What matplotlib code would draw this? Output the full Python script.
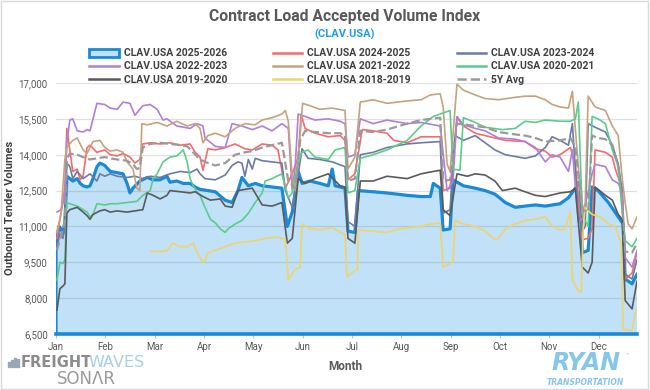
import matplotlib
matplotlib.use('Agg')
import matplotlib.pyplot as plt
from matplotlib.patches import Patch, Rectangle
from matplotlib.lines import Line2D
from matplotlib.ticker import FuncFormatter

plt.rcParams['font.family'] = ['Roboto', 'DejaVu Sans']

months = ['Jan', 'Feb', 'Mar', 'Apr', 'May', 'Jun', 'Jul', 'Aug', 'Sep', 'Oct', 'Nov', 'Dec']
yticks = [6500, 8000, 9500, 11000, 12500, 14000, 15500, 17000]

# (month position, volume)
s2025 = [(0.0, 10200), (0.06, 11000), (0.10, 10900), (0.14, 10700), (0.18, 11200), (0.22, 13100),
         (0.28, 13000), (0.34, 12900), (0.43, 13000), (0.49, 12800), (0.55, 12700), (0.63, 12650),
         (0.69, 12700), (0.75, 13000), (0.83, 13500), (0.89, 13650), (0.99, 13550), (1.10, 13300),
         (1.24, 13250), (1.36, 13200), (1.44, 12800), (1.50, 12400), (1.56, 12600), (1.70, 12900),
         (1.85, 13050), (1.97, 12950), (2.11, 12950), (2.25, 13100), (2.31, 12850), (2.45, 12900),
         (2.58, 12800), (2.72, 12800), (2.82, 12650), (2.92, 12550), (3.08, 12500), (3.23, 12450),
         (3.43, 12100), (3.57, 12000), (3.69, 12500), (3.77, 13050), (3.90, 12700), (4.04, 12800),
         (4.18, 12700), (4.38, 12650), (4.58, 12600), (4.69, 11000), (4.79, 11600), (4.91, 13300),
         (4.99, 12800), (5.15, 12900), (5.35, 12800), (5.52, 12700), (5.60, 13400), (5.66, 12700),
         (5.86, 12600), (5.92, 10800), (6.06, 10750), (6.13, 12500), (6.43, 12450), (6.71, 12400),
         (7.12, 12300), (7.40, 12250), (7.59, 12250), (7.65, 12800), (7.79, 12600), (7.85, 10850),
         (7.99, 10900), (8.05, 12950), (8.26, 12700), (8.50, 12600), (8.70, 12500), (8.90, 12350),
         (9.11, 12000), (9.31, 11800), (9.51, 11850), (9.72, 11900), (9.92, 11850), (10.22, 11950),
         (10.39, 12200), (10.53, 12600), (10.63, 12900), (10.67, 9900), (10.79, 10000), (10.87, 12650),
         (10.99, 12500), (11.20, 12000), (11.40, 11400), (11.50, 11100), (11.54, 8800), (11.68, 8600),
         (11.78, 9000)]

s2024 = [(0.02, 10500), (0.08, 11300), (0.14, 12000), (0.18, 12700), (0.22, 15100), (0.28, 14200),
         (0.34, 13300), (0.43, 13400), (0.49, 12950), (0.55, 13100), (0.63, 14300), (0.69, 14400),
         (0.83, 14100), (0.99, 14200), (1.10, 14000), (1.24, 13950), (1.36, 14050), (1.50, 13900),
         (1.60, 13650), (1.70, 13800), (1.76, 14450), (1.91, 14500), (2.11, 14450), (2.31, 14500),
         (2.52, 14400), (2.72, 14450), (2.82, 14100), (2.92, 13900), (2.98, 13350), (3.08, 14250),
         (3.23, 14200), (3.43, 14300), (3.63, 14450), (3.83, 14250), (3.98, 14200), (4.18, 14450),
         (4.38, 14400), (4.50, 14200), (4.65, 12600), (4.79, 13200), (4.91, 13900), (4.97, 15700),
         (5.05, 15100), (5.25, 14900), (5.52, 14750), (5.76, 14800), (5.86, 14600), (5.92, 12950),
         (6.06, 13200), (6.21, 15050), (6.43, 15000), (6.71, 14900), (6.85, 14600), (7.12, 14500),
         (7.40, 14750), (7.79, 14750), (7.85, 12500), (7.99, 12600), (8.13, 15550), (8.26, 15200),
         (8.50, 14900), (8.70, 14800), (8.90, 14700), (9.11, 14600), (9.51, 14550), (9.72, 14250),
         (9.92, 14150), (10.06, 13900), (10.22, 14000), (10.43, 14300), (10.53, 13600), (10.67, 10450),
         (10.79, 10500), (10.87, 10900), (10.93, 14200), (11.14, 14100), (11.28, 13900), (11.34, 13400),
         (11.48, 12600), (11.54, 8800), (11.68, 9050), (11.78, 9900)]

s2023 = [(0.02, 10100), (0.08, 10700), (0.14, 10500), (0.18, 11000), (0.22, 13650), (0.28, 13500),
         (0.34, 13000), (0.43, 13300), (0.55, 13000), (0.69, 13200), (0.83, 12900), (0.89, 13200),
         (0.99, 13100), (1.10, 13200), (1.24, 13100), (1.44, 13050), (1.60, 13100), (1.76, 13000),
         (1.91, 13100), (2.11, 13050), (2.31, 13200), (2.52, 13300), (2.72, 13250), (2.86, 13400),
         (2.92, 13200), (3.02, 13000), (3.23, 12950), (3.43, 13150), (3.57, 13550), (3.69, 13700),
         (3.77, 13650), (3.83, 13100), (3.90, 13800), (3.98, 13400), (4.04, 13850), (4.18, 13750),
         (4.38, 13700), (4.58, 13650), (4.65, 12500), (4.79, 11800), (4.91, 13200), (4.99, 14250),
         (5.11, 13850), (5.35, 13800), (5.60, 13700), (5.86, 13500), (5.92, 11200), (6.06, 11000),
         (6.17, 14000), (6.43, 14100), (6.71, 14300), (7.12, 14450), (7.40, 14500), (7.79, 14550),
         (7.85, 11550), (7.99, 11700), (8.09, 14800), (8.26, 14600), (8.50, 14800), (8.70, 14500),
         (8.90, 14200), (9.11, 14000), (9.51, 13850), (9.72, 13950), (9.92, 14300), (10.06, 14750),
         (10.22, 14600), (10.39, 14400), (10.47, 15300), (10.59, 11500), (10.67, 10800), (10.73, 11000),
         (10.79, 15300), (10.93, 15150), (11.14, 14950), (11.28, 14400), (11.40, 13600), (11.48, 12500),
         (11.54, 9000), (11.68, 8800), (11.78, 9600)]

s2022 = [(0.02, 11600), (0.10, 11700), (0.18, 12300), (0.22, 14500), (0.28, 15450), (0.34, 15500),
         (0.43, 15000), (0.55, 14950), (0.63, 15050), (0.69, 15000), (0.83, 16150), (0.99, 16100),
         (1.10, 15950), (1.24, 15900), (1.36, 16200), (1.50, 16150), (1.60, 15650), (1.76, 16050),
         (1.91, 16100), (2.05, 15900), (2.17, 15450), (2.25, 15500), (2.45, 15200), (2.72, 15100),
         (2.86, 15300), (2.98, 15200), (3.02, 14700), (3.23, 14350), (3.43, 14300), (3.57, 15300),
         (3.77, 15200), (3.98, 15050), (4.18, 15200), (4.38, 15000), (4.58, 15300), (4.71, 15100),
         (4.79, 12500), (4.85, 13500), (4.91, 15700), (5.05, 15600), (5.25, 15450), (5.52, 15500),
         (5.76, 15400), (5.86, 15300), (5.92, 13900), (6.06, 14000), (6.17, 15500), (6.43, 15300),
         (6.71, 15450), (7.12, 15300), (7.40, 15350), (7.79, 15200), (7.93, 12500), (8.05, 12900),
         (8.13, 15600), (8.26, 15250), (8.50, 15100), (8.70, 15000), (8.97, 14700), (9.31, 14650),
         (9.51, 14550), (9.72, 14300), (9.92, 13700), (10.06, 14000), (10.22, 13900), (10.39, 13300),
         (10.47, 14200), (10.59, 11200), (10.67, 11300), (10.87, 13200), (10.93, 13600), (11.14, 13500),
         (11.28, 12950), (11.40, 12800), (11.48, 12400), (11.54, 9700), (11.68, 9300), (11.78, 10000)]

s2021 = [(0.02, 10800), (0.10, 11500), (0.18, 13800), (0.22, 14300), (0.34, 14600), (0.43, 14700),
         (0.55, 14200), (0.63, 14050), (0.75, 14550), (0.89, 14600), (0.99, 14300), (1.10, 14150),
         (1.24, 14200), (1.36, 14100), (1.44, 13700), (1.56, 13400), (1.64, 12600), (1.70, 12500),
         (1.74, 15300), (1.85, 15250), (2.05, 15350), (2.25, 15200), (2.45, 15400), (2.66, 15200),
         (2.82, 15300), (2.92, 15100), (2.98, 14500), (3.08, 14800), (3.23, 14900), (3.43, 14750),
         (3.63, 15100), (3.83, 15300), (4.04, 15250), (4.18, 15450), (4.38, 15550), (4.58, 15700),
         (4.65, 15850), (4.71, 15400), (4.79, 13000), (4.85, 12500), (4.91, 13800), (5.00, 16150),
         (5.15, 16050), (5.35, 15900), (5.60, 15950), (5.86, 15850), (5.92, 13400), (6.06, 13900),
         (6.17, 16200), (6.43, 16300), (6.71, 16150), (7.12, 16250), (7.40, 16300), (7.59, 16500),
         (7.79, 16550), (7.85, 16000), (7.93, 13600), (7.99, 13300), (8.13, 16950), (8.26, 16700),
         (8.50, 16500), (8.70, 16350), (8.97, 16300), (9.31, 16400), (9.51, 16450), (9.72, 16450),
         (9.92, 16300), (10.06, 16100), (10.22, 16000), (10.39, 15950), (10.47, 16650), (10.59, 13500),
         (10.67, 11600), (10.73, 12000), (10.79, 16450), (10.93, 16000), (11.14, 15850), (11.28, 15200),
         (11.40, 14800), (11.48, 13000), (11.54, 12000), (11.60, 11100), (11.68, 10900), (11.78, 11400)]

s2020 = [(0.02, 8760), (0.08, 9500), (0.14, 9450), (0.18, 9600), (0.22, 11980), (0.28, 11950),
         (0.43, 11850), (0.55, 11700), (0.63, 11600), (0.69, 11400), (0.75, 11500), (0.83, 11950),
         (0.99, 11900), (1.10, 11950), (1.24, 11950), (1.44, 12000), (1.64, 12050), (1.76, 12300),
         (1.91, 12500), (1.97, 13000), (2.05, 13200), (2.17, 13700), (2.31, 13900), (2.45, 13950),
         (2.58, 14200), (2.66, 13700), (2.72, 13000), (2.78, 12700), (2.86, 12450), (2.92, 12300),
         (3.02, 11800), (3.13, 11300), (3.23, 11150), (3.33, 10900), (3.43, 10750), (3.49, 10900),
         (3.63, 11100), (3.77, 11250), (3.90, 11550), (4.04, 12000), (4.18, 12400), (4.24, 12900),
         (4.38, 13000), (4.58, 13200), (4.71, 12200), (4.79, 12400), (4.91, 13700), (4.99, 14100),
         (5.11, 14200), (5.25, 13900), (5.52, 13800), (5.66, 14200), (5.86, 14300), (5.92, 12400),
         (6.06, 12500), (6.17, 13850), (6.43, 14000), (6.71, 14200), (7.12, 14600), (7.40, 15200),
         (7.65, 15600), (7.79, 15700), (7.99, 15850), (8.05, 13400), (8.19, 13350), (8.26, 15550),
         (8.50, 15350), (8.70, 15150), (9.05, 15050), (9.31, 15100), (9.51, 15400), (9.72, 15350),
         (9.92, 15450), (10.22, 15400), (10.43, 15400), (10.53, 15500), (10.59, 16200), (10.67, 11500),
         (10.79, 11000), (10.87, 15600), (10.99, 15500), (11.14, 15300), (11.28, 14200), (11.40, 13500),
         (11.48, 11600), (11.54, 10400), (11.68, 10150), (11.78, 10500)]

s2019 = [(0.02, 7500), (0.08, 8400), (0.14, 8500), (0.18, 8600), (0.22, 11550), (0.28, 11700),
         (0.43, 11800), (0.55, 11600), (0.63, 11450), (0.69, 11300), (0.75, 11500), (0.89, 11650),
         (0.99, 11700), (1.10, 11600), (1.24, 11650), (1.44, 11600), (1.60, 11650), (1.76, 11700),
         (1.85, 12400), (1.97, 12300), (2.11, 12150), (2.25, 12300), (2.31, 12500), (2.52, 12450),
         (2.72, 12400), (2.82, 12450), (2.98, 12250), (3.13, 12100), (3.33, 12150), (3.43, 11850),
         (3.57, 11800), (3.69, 12500), (3.83, 12550), (3.98, 12600), (4.18, 11900), (4.38, 11850),
         (4.58, 12000), (4.69, 10300), (4.79, 10500), (4.91, 13000), (5.05, 12800), (5.25, 13000),
         (5.52, 13200), (5.76, 12700), (5.86, 12650), (5.92, 10500), (6.06, 10300), (6.17, 12900),
         (6.43, 12900), (6.71, 13100), (7.12, 13000), (7.40, 13200), (7.65, 13300), (7.79, 13350),
         (7.85, 11700), (7.99, 11450), (8.13, 13200), (8.34, 13100), (8.50, 13200), (8.70, 13150),
         (8.90, 12900), (9.05, 12500), (9.31, 12600), (9.51, 12450), (9.72, 12300), (9.92, 12250),
         (10.22, 12400), (10.43, 12450), (10.53, 12600), (10.67, 9300), (10.79, 9050), (10.87, 9500),
         (10.93, 12650), (11.14, 12300), (11.28, 12100), (11.40, 11500), (11.48, 11300), (11.54, 7900),
         (11.68, 7550), (11.78, 8700)]

s2018 = [(1.91, 9950), (2.05, 9950), (2.25, 9980), (2.37, 10300), (2.52, 10150), (2.66, 10150),
         (2.78, 10300), (2.86, 9900), (2.98, 9500), (3.02, 9550), (3.08, 9900), (3.23, 10000),
         (3.43, 10150), (3.63, 10300), (3.83, 10350), (4.04, 10400), (4.24, 10500), (4.50, 10550),
         (4.65, 10450), (4.71, 8760), (4.85, 9200), (4.95, 9300), (4.99, 11100), (5.15, 10900),
         (5.35, 10850), (5.60, 10950), (5.86, 10650), (5.90, 8900), (6.06, 9150), (6.11, 9200),
         (6.13, 10850), (6.43, 10800), (6.71, 10750), (6.98, 10900), (7.12, 10950), (7.40, 11000),
         (7.59, 11100), (7.79, 11150), (7.85, 9300), (7.99, 9450), (8.05, 9500), (8.09, 11250),
         (8.26, 11100), (8.50, 11000), (8.70, 10800), (8.90, 10450), (8.97, 10500), (9.11, 10900),
         (9.31, 11100), (9.51, 11250), (9.72, 11300), (9.92, 11400), (10.06, 11000), (10.22, 10850),
         (10.32, 10900), (10.43, 11600), (10.47, 8760), (10.59, 8300), (10.65, 8250), (10.69, 11000),
         (10.73, 11800), (10.87, 11500), (11.04, 11400), (11.20, 11100), (11.34, 11000), (11.46, 10300),
         (11.50, 6700), (11.68, 6650), (11.76, 7500)]

s5yavg = [(0.02, 10000), (0.10, 10600), (0.18, 11200), (0.22, 13800), (0.28, 14050), (0.43, 14000),
          (0.55, 13900), (0.69, 13800), (0.83, 13850), (0.99, 13900), (1.10, 13850), (1.24, 13800),
          (1.44, 13750), (1.56, 13600), (1.64, 13400), (1.70, 13450), (1.76, 14300), (1.91, 14450),
          (2.11, 14500), (2.31, 14450), (2.52, 14400), (2.66, 14350), (2.78, 14100), (2.92, 13800),
          (3.08, 13650), (3.23, 13550), (3.43, 13650), (3.63, 14000), (3.83, 14100), (3.98, 14150),
          (4.18, 14300), (4.38, 14400), (4.58, 14500), (4.71, 12900), (4.85, 12600), (4.95, 14600),
          (5.05, 15000), (5.25, 14950), (5.52, 14900), (5.76, 14900), (5.86, 14800), (5.92, 12900),
          (6.06, 13000), (6.17, 15000), (6.43, 14950), (6.71, 15050), (7.12, 15300), (7.40, 15450),
          (7.79, 15550), (7.85, 12900), (7.99, 12950), (8.13, 15300), (8.34, 15250), (8.50, 15200),
          (8.70, 15150), (8.97, 14950), (9.31, 14850), (9.51, 14800), (9.72, 14700), (9.92, 14550),
          (10.22, 14600), (10.43, 14700), (10.53, 14300), (10.67, 11700), (10.79, 11600), (10.87, 14800),
          (10.99, 14700), (11.14, 14650), (11.28, 14400), (11.40, 13500), (11.48, 12000), (11.54, 9950),
          (11.68, 9900), (11.78, 10300)]

lines = [
    ('CLAV.USA 2024-2025', s2024, '#f76b6b', '-'),
    ('CLAV.USA 2023-2024', s2023, '#6a7ca6', '-'),
    ('CLAV.USA 2022-2023', s2022, '#b07fd8', '-'),
    ('CLAV.USA 2021-2022', s2021, '#c6a37f', '-'),
    ('CLAV.USA 2020-2021', s2020, '#5ccc8c', '-'),
    ('CLAV.USA 2019-2020', s2019, '#5a5a5a', '-'),
    ('CLAV.USA 2018-2019', s2018, '#f0d36a', '-'),
    ('5Y Avg', s5yavg, '#9a9a9a', '--'),
]

BLUE = '#1a8ad8'
FILL = '#c0e1f7'
YMIN, YMAX = 6500, 17000

fig = plt.figure(figsize=(6.5, 3.9), dpi=100)
ax = fig.add_axes([56/650, 56/390, 581/650, 251/390])
ax.set_xlim(0, 11.78)
ax.set_ylim(YMIN, YMAX)

# 2025-2026 area
x25, y25 = zip(*s2025)
ax.fill(list(x25) + [x25[-1], x25[0]], list(y25) + [YMIN, YMIN],
        facecolor=FILL, edgecolor='none', zorder=1)
for yv in yticks:
    ax.axhline(yv, color=(0.45, 0.45, 0.45, 0.22), lw=0.9, zorder=1.5)
ax.plot([x25[0]] + list(x25), [YMIN] + list(y25), color=BLUE, lw=2.3, zorder=2,
        solid_joinstyle='round')
ax.plot([0, 11.78], [YMIN, YMIN], color=BLUE, lw=2.6, zorder=2, clip_on=False)

for label, data, color, ls in lines:
    xs, ys = zip(*data)
    ax.plot(xs, ys, color=color, lw=1.2 if ls == '-' else 1.6, ls=ls, zorder=3)

for s in ax.spines.values():
    s.set_visible(False)
ax.set_xticks(range(12))
ax.set_xticklabels(months)
ax.set_yticks(yticks)
ax.yaxis.set_major_formatter(FuncFormatter(lambda v, p: f'{v:,.0f}'))
ax.tick_params(axis='y', length=0, labelsize=7, labelcolor='#595959', pad=6)
ax.tick_params(axis='x', length=3, color='#bfbfbf', labelsize=7, labelcolor='#595959', pad=3)

# titles
fig.text(345/650, 1 - 17/390, 'Contract Load Accepted Volume Index', ha='center', va='center',
         fontsize=11.3, weight='bold', color='#595959')
fig.text(345/650, 1 - 34/390, '(CLAV.USA)', ha='center', va='center',
         fontsize=8, weight='bold', color='#1e9be9')

# legend (row-major order like the original)
handles = [Patch(facecolor=FILL, edgecolor=BLUE, lw=2)]
labels = ['CLAV.USA 2025-2026']
for label, data, color, ls in lines:
    handles.append(Line2D([], [], color=color, lw=1.8, ls=ls))
    labels.append(label)
order = [0, 3, 6, 1, 4, 7, 2, 5, 8]
leg = fig.legend([handles[i] for i in order], [labels[i] for i in order], ncol=3,
                 loc='upper center', bbox_to_anchor=(342/650, 1 - 39/390), frameon=False,
                 handlelength=2.8, handleheight=0.8, handletextpad=0.5,
                 columnspacing=4.4, labelspacing=0.3, labelcolor='#404040',
                 prop={'weight': 'bold', 'size': 7.5})

fig.text(10/650, 1 - 208/390, 'Outbound Tender Volumes', rotation=90, ha='center', va='center',
         fontsize=8, weight='bold', color='#404040')
fig.text(345/650, 1 - 367/390, 'Month', ha='center', va='center',
         fontsize=8.5, weight='bold', color='#595959')

# FreightWaves SONAR logo
for i, h in enumerate([5, 7, 9, 8]):
    fig.add_artist(Rectangle(((8 + i * 3) / 650, (390 - 367) / 390), 2 / 650, h / 390,
                             color='#9aa7b4', transform=fig.transFigure))
fig.text(21/650, 1 - 367/390, 'FREIGHT', ha='left', va='baseline', fontsize=10.5, weight='bold',
         color='#8c8c8c', family='DejaVu Sans')
fig.text(88/650, 1 - 367/390, 'WAVES', ha='left', va='baseline', fontsize=11.5,
         color='#a8cfe8', family='DejaVu Sans')
fig.text(86/650, 1 - 384/390, 'SONΛR', ha='center', va='baseline', fontsize=12,
         color='#9a9a9a', family='DejaVu Sans')

# Ryan Transportation logo
fig.text(586/650, 1 - 370/390, 'RYAN', ha='center', va='baseline', fontsize=17, weight='bold',
         style='italic', color='#86c6ea', family='DejaVu Sans')
fig.text(628/650, 1 - 355/390, '™', ha='center', va='center', fontsize=4, color='#86c6ea')
fig.text(585/650, 1 - 385/390, 'TRANSPORTATION', ha='center', va='baseline', fontsize=5.5,
         weight='bold', style='italic', color='#86c6ea', family='DejaVu Sans')

fig.add_artist(Rectangle((0.002, 0.003), 0.995, 0.994, fill=False, edgecolor='#d9d9d9',
                         lw=1, transform=fig.transFigure))

fig.savefig('out.png', dpi=100, facecolor='white')
